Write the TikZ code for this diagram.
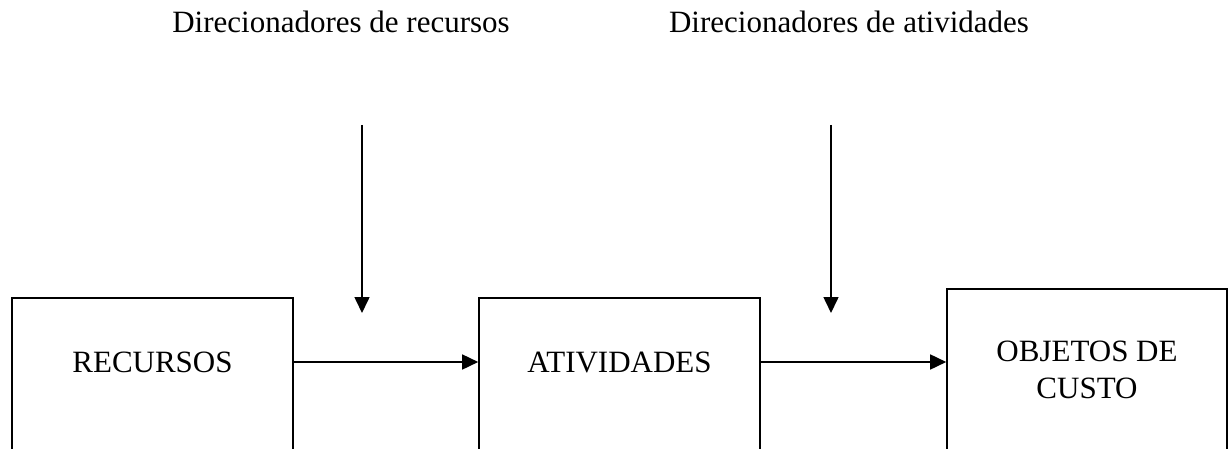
\documentclass[tikz,border=0pt]{standalone}
\usepackage{fontspec}
\setmainfont{Liberation Serif}
\usetikzlibrary{arrows.meta,positioning}

\tikzset{
  caixa/.style={draw,line width=1.6pt,minimum width=281pt,minimum height=220pt,anchor=north,inner sep=0pt},
  rotulo/.style={font=\fontsize{31}{37}\selectfont,align=center,inner sep=0pt},
  seta/.style={-{Triangle[length=16pt,width=15pt]},line width=1.6pt},
}

\begin{document}
\begin{tikzpicture}[x=1pt,y=-1pt]
  \useasboundingbox (0,0) rectangle (1229,449);
  \clip (0,0) rectangle (1229,449);
  % caixas
  \node[caixa] (rec) at (152.5,297) {};
  \node[caixa] (ativ) at (619.5,297) {};
  \node[caixa,minimum width=280pt] (obj) at (1087,288) {};
  \node[rotulo] (recT) at (152.5,362) {RECURSOS};
  \node[rotulo] (ativT) at (619.5,362) {ATIVIDADES};
  \node[rotulo] (objT) at (1087,370) {OBJETOS DE\\CUSTO};
  % direcionadores
  \node[rotulo,anchor=base] (dirRec) at (341,33) {Direcionadores de recursos};
  \node[rotulo,anchor=base] (dirAtiv) at (849,33) {Direcionadores de atividades};
  \coordinate (topoRec) at (362,125);
  \coordinate (pontaRec) at (362,313);
  \coordinate (topoAtiv) at (831,125);
  \coordinate (pontaAtiv) at (831,313);
  \draw[seta] (topoRec) -- (pontaRec);
  \draw[seta] (topoAtiv) -- (pontaAtiv);
  % fluxo
  \draw[seta] (rec.east |- recT) -- (ativ.west |- recT);
  \draw[seta] (ativ.east |- recT) -- (obj.west |- recT);
\end{tikzpicture}
\end{document}
